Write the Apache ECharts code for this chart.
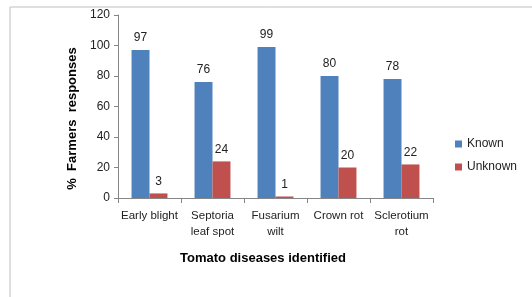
<!DOCTYPE html>
<html>
<head>
<meta charset="utf-8">
<script src="https://cdn.jsdelivr.net/npm/echarts@6/dist/echarts.min.js"></script>
<style>
html, body { margin: 0; padding: 0; background: #fff; }
#chart { width: 532px; height: 297px; }
</style>
</head>
<body>
<div id="chart"></div>
<script>
// 数据
const categories = ["Early blight", "Septoria\nleaf spot", "Fusarium\nwilt", "Crown rot", "Sclerotium\nrot"];
const known = [97, 76, 99, 80, 78];
const unknown = [3, 24, 1, 20, 22];
const yTicks = { min: 0, max: 120, interval: 20 };

const font = "Liberation Sans";
const myChart = echarts.init(document.getElementById("chart"));

const labelStyle = {
  show: true,
  position: "top",
  distance: 6,
  color: "#222",
  fontSize: 12,
  fontFamily: font,
};

const option = {
  animation: false,
  graphic: [
    {
      type: "rect",
      shape: { x: 10, y: 7, width: 540, height: 300 },
      style: { fill: "none", stroke: "#bfbfbf", lineWidth: 1 },
      silent: true,
    },
  ],
  grid: { left: 118, right: 99, top: 15, bottom: 99 },
  legend: {
    orient: "vertical",
    left: 450,
    top: 133,
    itemWidth: 7,
    itemHeight: 7,
    itemGap: 11,
    icon: "rect",
    textStyle: { fontSize: 12, fontFamily: font, color: "#222" },
    data: ["Known", "Unknown"],
  },
  xAxis: {
    type: "category",
    data: categories,
    name: "Tomato diseases identified",
    nameLocation: "middle",
    nameGap: 54,
    nameTextStyle: {
      fontSize: 13,
      fontWeight: "bold",
      fontFamily: font,
      color: "#000",
      padding: [0, 25, 0, 0],
    },
    axisLine: { lineStyle: { color: "#868686" } },
    axisTick: { show: true, length: 5, lineStyle: { color: "#868686" } },
    axisLabel: {
      fontSize: 11.5,
      fontFamily: font,
      color: "#222",
      lineHeight: 16,
      margin: 10,
      interval: 0,
    },
  },
  yAxis: {
    type: "value",
    min: yTicks.min,
    max: yTicks.max,
    interval: yTicks.interval,
    name: "%  Farmers  responses",
    nameLocation: "middle",
    nameGap: 39,
    nameTextStyle: {
      fontSize: 13,
      fontWeight: "bold",
      fontFamily: font,
      color: "#000",
      padding: [0, 24, 0, 0],
    },
    axisLine: { show: true, lineStyle: { color: "#868686" } },
    axisTick: { show: true, length: 4, lineStyle: { color: "#868686" } },
    axisLabel: { fontSize: 12, fontFamily: font, color: "#222", margin: 8 },
    splitLine: { show: false },
  },
  series: [
    {
      name: "Known",
      type: "bar",
      data: known,
      barGap: "0%",
      barCategoryGap: "43%",
      itemStyle: { color: "#4F81BD" },
      label: labelStyle,
    },
    {
      name: "Unknown",
      type: "bar",
      data: unknown,
      itemStyle: { color: "#C0504D" },
      label: labelStyle,
    },
  ],
};

myChart.setOption(option);
</script>
</body>
</html>
